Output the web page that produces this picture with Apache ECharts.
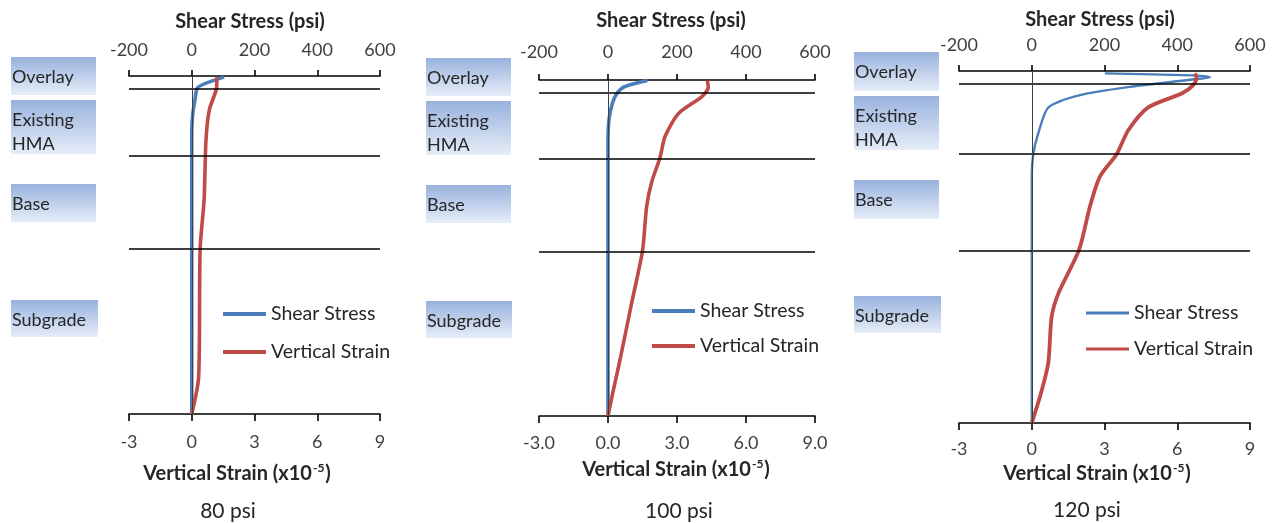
<!DOCTYPE html>
<html>
<head>
<meta charset="utf-8">
<script src="https://cdn.jsdelivr.net/npm/echarts@6/dist/echarts.min.js"></script>
<style>
  html, body { margin: 0; padding: 0; background: #fff; }
  #chart { width: 1277px; height: 523px; }
</style>
</head>
<body>
<div id="chart"></div>
<script>
// Pavement response profiles: shear stress and vertical strain against depth (in)
const panelTitles = ['80 psi', '100 psi', '120 psi'];
const layerNames = ['Overlay', 'Existing\nHMA', 'Base', 'Subgrade'];
const layerDepths = [2.25, 14.1, 30.6];       // layer interfaces, depth (in)
const depthRange = [0, 60];
const stressTicks = [-200, 0, 200, 400, 600];  // Shear Stress (psi)
const strainTicks = [-3, 0, 3, 6, 9];          // Vertical Strain (x10^-5)

// [shear stress psi, depth in]
const shear80  = [[103, 0.2], [20, 2.0], [10, 4.3], [3, 6.9], [0, 10.2], [0, 60]];
const shear100 = [[114, 0.1], [44, 1.3], [20, 3.0], [4, 6.6], [0, 10.7], [0, 60]];
const shear120 = [[201, 0.4], [440, 0.75], [490, 1.05], [435, 1.5], [270, 2.7], [133, 4.1],
                  [46, 6.2], [18, 10.6], [4, 14.2], [0, 18], [0, 60]];
// [vertical strain x10^-5, depth in]
const strain80  = [[1.2, 0.2], [1.18, 2.2], [0.84, 6.0], [0.68, 11.4], [0.59, 22], [0.40, 30.7],
                   [0.33, 53.4], [0, 60]];
const strain100 = [[4.32, 0.1], [4.36, 1.3], [4.07, 3.0], [3.06, 6.0], [2.48, 10.1], [2.26, 13.9],
                   [1.9, 18.2], [1.68, 22.6], [1.5, 30.5], [1.02, 40], [0.52, 50], [0.2, 56], [0, 60]];
const strain120 = [[6.73, 0.4], [6.8, 1.2], [6.66, 2.4], [6.2, 3.8], [4.8, 6.2], [3.98, 10.1],
                   [3.5, 14.2], [2.81, 18], [2.4, 23.1], [1.95, 30.5], [1.1, 37.9], [0.82, 41.9],
                   [0.68, 49.8], [0.34, 55.5], [0, 60]];

const shearSets = [shear80, shear100, shear120];
const strainSets = [strain80, strain100, strain120];

const BLUE = '#4A7EBB';
const RED = '#BE4B48';
const FONT = 'Lato, "Open Sans", sans-serif';
const TEXT = '#262626';

// Page layout for the three panels
const layout = [
  { grid: { left: 129, top: 76, width: 251, height: 338 },
    topLabelMargin: 17, bottomLabelMargin: 19, strainDigits: 0,
    topTitle: [250, 22], bottomTitle: [237, 474], caption: [228, 511],
    legend: { left: 223, top: 303, gap: 16 }, widths: [3.6, 3.6],
    boxes: [[11, 57, 85, 38, 1], [11, 100, 85, 54, 5], [11, 184, 85, 38, 1], [11, 300, 87, 37, 2]] },
  { grid: { left: 539, top: 80, width: 276, height: 336 },
    topLabelMargin: 19, bottomLabelMargin: 18, strainDigits: 1,
    topTitle: [671, 21], bottomTitle: [676, 470], caption: [679, 511],
    legend: { left: 652, top: 300, gap: 13 }, widths: [3.6, 3.6],
    boxes: [[426, 58, 85, 38, 1], [426, 101, 85, 54, 5], [426, 185, 85, 38, 1], [426, 301, 86, 37, 2]] },
  { grid: { left: 959, top: 71, width: 291, height: 352 },
    topLabelMargin: 17, bottomLabelMargin: 17, strainDigits: 0,
    topTitle: [1100, 20], bottomTitle: [1097, 474], caption: [1087, 510],
    legend: { left: 1086, top: 302, gap: 14 }, widths: [2.4, 3.8],
    boxes: [[854, 52, 85, 39, 1], [854, 96, 85, 54, 5], [854, 180, 85, 39, 1], [854, 296, 87, 37, 2]] }
];

const grids = [], xAxes = [], yAxes = [], series = [], legends = [], graphics = [];

layout.forEach((p, i) => {
  grids.push(Object.assign({ containLabel: false }, p.grid));

  // top axis: shear stress
  xAxes.push({
    gridIndex: i, type: 'value', position: 'top',
    min: stressTicks[0], max: stressTicks[stressTicks.length - 1],
    interval: stressTicks[1] - stressTicks[0],
    axisLine: { show: true, onZero: false, lineStyle: { color: '#000', width: 1.6 } },
    axisTick: { show: true, length: 6, lineStyle: { color: '#000', width: 1.6 } },
    splitLine: { show: false },
    axisLabel: { fontFamily: FONT, fontSize: 18, color: '#404040', margin: p.topLabelMargin }
  });
  // bottom axis: vertical strain
  xAxes.push({
    gridIndex: i, type: 'value', position: 'bottom',
    min: strainTicks[0], max: strainTicks[strainTicks.length - 1],
    interval: strainTicks[1] - strainTicks[0],
    axisLine: { show: true, onZero: false, lineStyle: { color: '#000', width: 1.6 } },
    axisTick: { show: true, length: 7, lineStyle: { color: '#000', width: 1.6 } },
    splitLine: { show: false },
    axisLabel: {
      fontFamily: FONT, fontSize: 18, color: '#404040', margin: p.bottomLabelMargin,
      formatter: (v) => v.toFixed(p.strainDigits)
    }
  });
  yAxes.push({
    gridIndex: i, type: 'value', inverse: true,
    min: depthRange[0], max: depthRange[1], show: false
  });

  // layer interfaces and the zero line
  series.push({
    name: 'layers' + i, type: 'line', xAxisIndex: 2 * i, yAxisIndex: i,
    data: [], z: 1, silent: true,
    markLine: {
      silent: true, symbol: 'none', animation: false, label: { show: false },
      data: layerDepths.map(d => ({ yAxis: d, lineStyle: { color: '#000', width: 1.6, type: 'solid' } }))
        .concat([{ xAxis: 0, lineStyle: { color: '#404040', width: 1, type: 'solid' } }])
    }
  });
  series.push({
    name: 'Shear Stress', type: 'line', xAxisIndex: 2 * i, yAxisIndex: i,
    data: shearSets[i], symbol: 'none', smooth: 0.25, z: 3,
    lineStyle: { color: BLUE, width: p.widths[0] }, itemStyle: { color: BLUE }
  });
  series.push({
    name: 'Vertical Strain', type: 'line', xAxisIndex: 2 * i + 1, yAxisIndex: i,
    data: strainSets[i], symbol: 'none', smooth: 0.25, z: 4,
    lineStyle: { color: RED, width: p.widths[1] }, itemStyle: { color: RED }
  });

  legends.push({
    data: [
      { name: 'Shear Stress', icon: 'rect', itemStyle: { color: BLUE } },
      { name: 'Vertical Strain', icon: 'rect', itemStyle: { color: RED } }
    ],
    orient: 'vertical', padding: 0,
    left: p.legend.left, top: p.legend.top, itemGap: p.legend.gap,
    itemWidth: 43, itemHeight: Math.min(p.widths[0], p.widths[1]) + 0.4, selectedMode: false,
    textStyle: { fontFamily: FONT, fontSize: 19.5, color: TEXT, lineHeight: 22 }
  });

  // titles and caption
  graphics.push({
    type: 'text', x: p.topTitle[0], y: p.topTitle[1], silent: true,
    style: { text: 'Shear Stress (psi)', font: 'bold 20px ' + FONT, fill: TEXT,
             align: 'center', verticalAlign: 'middle' }
  });
  graphics.push({
    type: 'text', x: p.bottomTitle[0], y: p.bottomTitle[1], silent: true,
    style: {
      text: '{t|Vertical Strain (x10}{s|-5}{t|)}', align: 'center', verticalAlign: 'middle',
      rich: {
        t: { font: 'bold 20px ' + FONT, fill: TEXT, lineHeight: 24 },
        s: { font: 'bold 12px ' + FONT, fill: TEXT, lineHeight: 24, verticalAlign: 'top', padding: [0, 1, 10, 1] }
      }
    }
  });
  graphics.push({
    type: 'text', x: p.caption[0], y: p.caption[1], silent: true,
    style: { text: panelTitles[i], font: '21px ' + FONT, fill: TEXT, align: 'center', verticalAlign: 'middle' }
  });

  // layer name boxes
  p.boxes.forEach((b, k) => {
    graphics.push({
      type: 'rect', silent: true,
      shape: { x: b[0], y: b[1], width: b[2], height: b[3] },
      style: {
        fill: new echarts.graphic.LinearGradient(0, 0, 0, 1, [
          { offset: 0, color: '#98B2DD' },
          { offset: 1, color: '#E6EDF8' }
        ])
      }
    });
    graphics.push({
      type: 'text', silent: true, x: b[0] + 1, y: b[1] + b[3] / 2 + b[4],
      style: { text: layerNames[k], font: '18px ' + FONT, fill: TEXT, lineHeight: 24,
               align: 'left', verticalAlign: 'middle' }
    });
  });
});

const chart = echarts.init(document.getElementById('chart'), null, { renderer: 'canvas' });
chart.setOption({
  animation: false,
  backgroundColor: '#fff',
  grid: grids,
  xAxis: xAxes,
  yAxis: yAxes,
  legend: legends,
  series: series,
  graphic: { elements: graphics }
});
</script>
</body>
</html>
